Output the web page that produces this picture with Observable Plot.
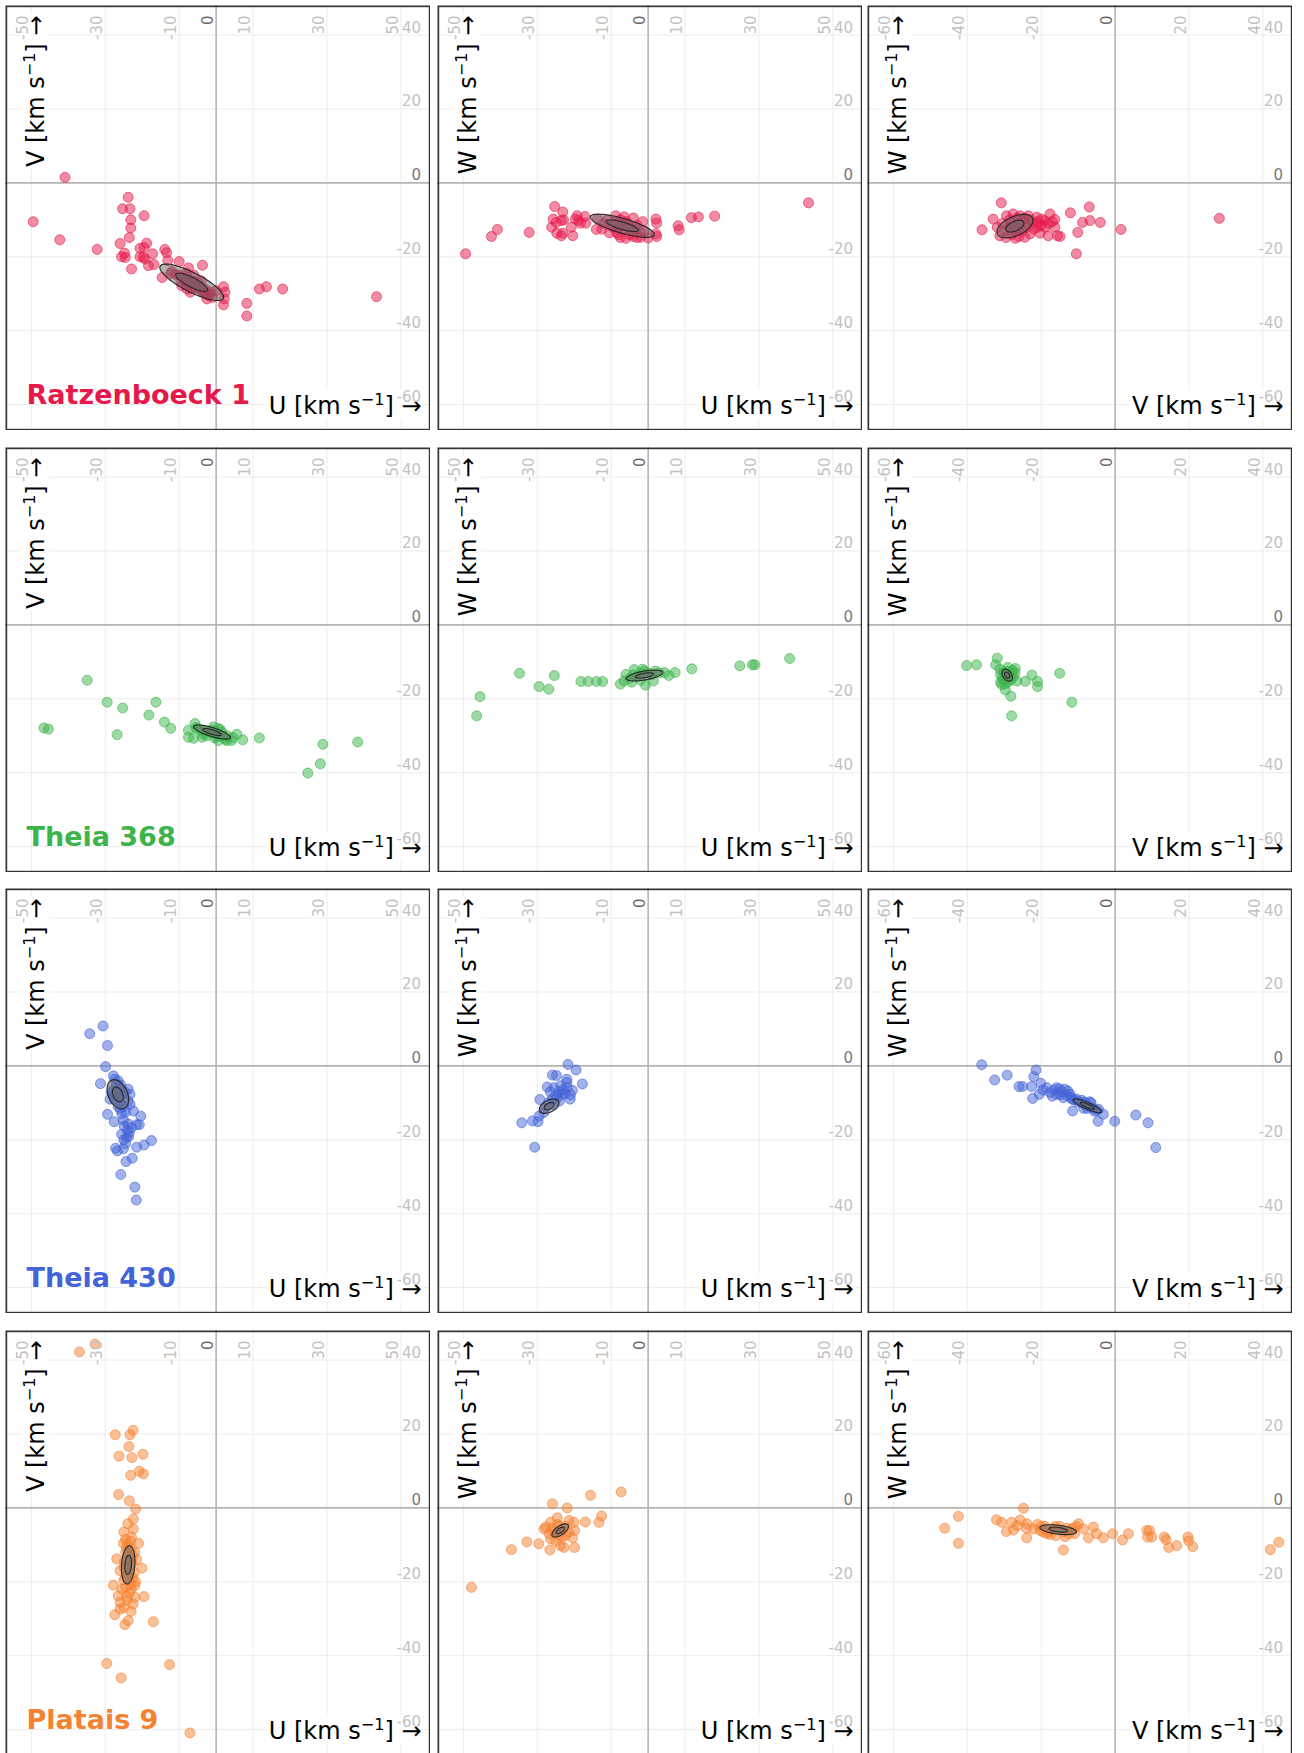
<!DOCTYPE html>
<html><head><meta charset="utf-8">
<script src="https://cdn.jsdelivr.net/npm/d3@7"></script>
<script src="https://cdn.jsdelivr.net/npm/@observablehq/plot@0.6"></script>
<style>
body{margin:0;background:#fff;}
#root{position:relative;width:1304px;height:1753px;overflow:hidden;background:#fff;font-family:"DejaVu Sans";}
.panel{position:absolute;width:425px;height:425px;}
.panel svg{display:block;}
</style></head><body><div id="root"></div>
<script>
// ---------- categories / ticks ----------
const clusterNames = ["Ratzenboeck 1", "Theia 368", "Theia 430", "Platais 9"];
const clusterColors = ["#e6194B", "#3cb44b", "#4363d8", "#f58231"];
const uTicks = [-50, -30, -10, 0, 10, 30, 50];
const vTicks = [-60, -40, -20, 0, 20, 40];
const wTicks = [-60, -40, -20, 0, 20, 40];
const uDomain = [-57, 58];
const vDomain = [-67, 48];
const wDomain = [-67, 48];

// ---------- Ratzenboeck 1 ----------
const r1_UV = [[-40.9,1.5],[-49.5,-10.5],[-42.3,-15.4],[-32.2,-18],[-23.8,-3.9],[-25.3,-7],[-23.3,-7],[-23.1,-10],[-23.1,-12.2],[-19.5,-8.9],[-23.5,-14.8],[-26,-16.4],[-18.8,-16.3],[-20.6,-17.7],[-19.5,-17.5],[-24.8,-19],[-25.6,-20],[-24.6,-20.2],[-20.6,-20],[-19.7,-20.1],[-19.2,-20.6],[-17.2,-19.2],[-22.9,-23.3],[-18.3,-22.4],[-16.8,-22.1],[-13.9,-18],[-13.4,-18.9],[-13.1,-21],[-10,-21.3],[-14.6,-25.6],[-12.3,-24.5],[-7.5,-23],[-3.7,-22.3],[2,-28.1],[2.4,-29.6],[2.2,-31.4],[2,-33],[8.3,-32.6],[8.3,-36],[11.7,-28.7],[13.6,-28.1],[18,-28.7],[43.4,-30.8],
  [-12,-24],[-11,-24.8],[-10,-25],[-9,-25.5],[-8.5,-26.5],[-8,-26],[-7.5,-27],[-7,-27.5],[-6.5,-26.5],[-6,-28],[-5.5,-27.5],[-5,-28.5],[-4.5,-28],[-4,-29],[-3.5,-29.5],[-3,-28.8],[-2.5,-30],[-2,-30.5],[-1.5,-29.5],[-1,-31],[-9.3,-27.8],[-7.9,-28.7],[-7,-29.6],[-5.2,-28.3],[-2.5,-31.4],[-1.6,-30.1],[0,-29.2],[-8,-24.5],[-6,-25],[-4,-26.5],
  [-9.5,-26.5],[-8,-27.5],[-6,-26.8],[-5,-27],[-3,-30],[-4.2,-28.3],[-6.8,-28.5]];
const r1_UW = [[-49.4,-19.2],[-42.4,-14.5],[-40.8,-12.6],[-32.2,-13.4],[-25.3,-6.4],[-23.1,-7.9],[-25.7,-9.8],[-24.9,-10.7],[-23.5,-10.2],[-22.9,-10],[-26.1,-12],[-24.7,-13.6],[-23.5,-14.3],[-23.1,-13.6],[-20.4,-14.3],[-20.8,-12],[-19.7,-9.8],[-19.2,-8.9],[-18.8,-10.2],[-18.3,-10.9],[-17.1,-9.1],[-16.9,-10.9],[-14,-12.6],[-13.7,-9.8],[2.1,-9.8],[2.3,-10.9],[2.1,-13.8],[2.3,-14.5],[8.1,-11.6],[8.4,-12.7],[11.7,-9.4],[13.6,-9.2],[18,-9],[43.4,-5.4],
  [-12,-11],[-11,-10],[-10,-11.5],[-9,-10.5],[-8.8,-8.9],[-8,-12],[-7,-11],[-6.5,-12.5],[-6,-10.5],[-5,-12],[-4,-13],[-3,-11.5],[-2,-13.5],[-1,-13],[-7.5,-14.8],[-6,-15],[-4,-14.5],[-2,-14.7],[0,-14.9],[-10.5,-13.5],[-12.5,-12.5],[-4,-9.5],[-6.5,-9.2],[-1.5,-10.5],[-8.5,-13.5],[-5,-14],
  [-9.5,-12],[-7.5,-10],[-5.5,-11],[-3.5,-12.5],[-8,-14],[-3,-14.8]];
const r1_VW = [[-30.8,-5.4],[-36,-12.7],[-33,-9.8],[-31.9,-12],[-31.2,-14.3],[-12.1,-8.1],[-7,-6.5],[-8.8,-10.7],[-6.8,-10.2],[-4,-10.7],[-10.1,-13.4],[-10.5,-19.2],[1.6,-12.6],[28.2,-9.6],
  [-29.4,-8.9],[-27.6,-8.4],[-25.7,-8.9],[-23.5,-8.9],[-21.2,-9.3],[-19.9,-9.8],[-19,-10.2],[-17.6,-8.4],[-16.3,-9.9],[-20.3,-13.6],[-23,-13.8],[-24.4,-14.7],[-18.1,-14.3],[-16.3,-12],[-14.9,-14.5],[-15.6,-14.3],[-30,-13],[-29,-12],[-28,-14],[-27,-13],[-26,-11],[-25,-10],[-24,-12],[-28.5,-10],[-26,-14.5],[-30.5,-11],[-22,-11],[-21,-10.5],[-20,-11.5],[-23,-10],[-29.5,-14.8],[-27,-15],
  [-28,-11],[-27,-12],[-26,-12.5],[-25,-13],[-24,-11],[-22,-12.5],[-21,-12],[-19,-12],[-18,-11],[-17,-10.5],[-28.5,-12.5],[-26.5,-9.5],[-24.5,-9.5]];
// ellipse: [centre x, centre y, semi-major, semi-minor, angle deg]
const r1_ell = [[-6.6,-26.9,4.8,1.3,-27],[-7,-11.6,4.5,1.0,-16],[-27.1,-11.7,2.6,1.3,24]];

// ---------- Theia 368 ----------
const t368_UV = [[-34.9,-15],[-46.6,-27.9],[-45.4,-28.2],[-29.5,-20.9],[-25.3,-22.5],[-26.8,-29.7],[-16.3,-20.9],[-18.2,-24.4],[-14,-26.3],[-12.3,-28],[-7.5,-28.5],[-7.5,-30.4],[-6.1,-30.7],[-5.7,-26.7],[-3.8,-30.4],[-0.7,-27.6],[1.1,-28.3],[0.6,-31.3],[2.9,-31.3],[4.2,-31.3],[5.6,-29.6],[7.2,-31.1],[11.7,-30.6],[28.9,-32.3],[38.3,-31.7],[28.2,-37.6],[24.8,-40.1],
  [-5,-28],[-4,-28.5],[-3,-28.5],[-2,-29],[-1,-28.5],[0,-29.5],[1,-30],[2,-30.5],[3,-30],[0.5,-28],[1.5,-29],[-2.5,-30],[-5.5,-27.8],[4.5,-30.5],
  [-1.5,-29],[0.2,-30.2],[-3.5,-29.5],[2.5,-31],[-0.5,-30.5]];
const t368_UW = [[-46.4,-24.6],[-45.5,-19.4],[-34.8,-13.1],[-29.5,-16.7],[-26.9,-17.4],[-25.4,-13.7],[-18.2,-15.3],[-16.2,-15.3],[-14,-15.3],[-12.3,-15.3],[-7.5,-16],[-6,-13.4],[-3.8,-12.1],[-0.7,-16.3],[1.4,-15.2],[4.4,-12.9],[5.6,-13.7],[7.3,-12.9],[11.8,-11.9],[24.8,-11.1],[28.2,-10.8],[28.9,-10.8],[38.3,-9.1],
  [-5,-14.5],[-4,-13.5],[-3,-14],[-2,-13],[-1,-12.5],[0,-13],[1,-13.5],[2,-12.5],[3,-13],[-1.5,-12],[-4.5,-15.5],[-6.5,-15.2],[-2,-15]];
const t368_VW = [[-40.2,-11],[-37.5,-10.8],[-31.9,-9],[-32.3,-10.8],[-31.2,-12],[-27.1,-12.9],[-26.6,-15.2],[-30.7,-16.1],[-29.7,-17.6],[-28.2,-19.3],[-28,-24.6],[-24.3,-15.3],[-22.5,-13.6],[-21,-15.3],[-21,-16.7],[-15,-13.1],[-11.7,-20.9],
  [-30,-13],[-28.5,-14.5],[-29.5,-12.5],[-28,-13],[-30.5,-14.5],[-29,-15.5],[-27.5,-14],[-31,-13.5],[-29,-11.5],[-27,-11.8],[-30,-15],
  [-29.5,-14],[-28.8,-13.2],[-30.2,-12.8],[-28.2,-15],[-29.8,-16],[-27.8,-12.3],[-31,-15.5]];
const t368_ell = [[-1.1,-29,2.6,0.6,-17],[-1,-13.7,2.5,0.6,10],[-29.2,-13.6,0.9,0.6,-55]];

// ---------- Theia 430 ----------
const t430_UV = [[-34.2,8.7],[-30.6,10.8],[-29.4,5.5],[-29.9,-0.2],[-31.3,-4.8],[-27.8,-2.7],[-26,-11.7],[-23.3,-10.4],[-22.4,-12.2],[-20.4,-13.6],[-29.4,-13.1],[-27.6,-15.1],[-23.7,-19.1],[-20.8,-15.9],[-17.5,-20.2],[-19.5,-21.4],[-21.5,-22],[-27.2,-22.3],[-22.7,-25],[-24.4,-25.9],[-25.8,-29.4],[-22,-32.8],[-21.6,-36.3],
  [-27.4,-3.6],[-28.3,-7.2],[-28.7,-9],[-23.8,-6.3],[-23.3,-7.7],[-23.8,-9.5],[-25.1,-14.7],[-24.9,-16.3],[-23.8,-15.7],[-22.9,-16.7],[-21.5,-15.9],[-25.6,-18.5],[-24.2,-19.4],[-26.7,-23],[-25.1,-22.4],[-27,-5],[-26,-6],[-25.5,-8],[-27.5,-9],[-26,-10],[-25,-11],[-28,-6.5],[-26.5,-4],[-24.5,-12.5],[-25.5,-13],[-24,-17.5],[-23.5,-18],[-25,-20],[-24.5,-21],
  [-27,-7.5],[-26,-8.5],[-25.8,-5.2],[-27.8,-8],[-24.8,-7],[-26.5,-11]];
const t430_UW = [[-21.7,0.4],[-19.5,-1.1],[-25.9,-2.5],[-24.8,-2.6],[-22,-3.6],[-17.8,-4.9],[-29.3,-9.1],[-34.2,-15.4],[-31.3,-14.9],[-29.8,-15.1],[-30.7,-22],
  [-27.3,-5.7],[-25.5,-5.9],[-23.7,-5.4],[-21.9,-5.9],[-20.5,-6.6],[-23.2,-7.7],[-24.6,-8.6],[-21.1,-9],[-28.2,-12.6],[-29.5,-13.6],[-26,-9],[-25,-8],[-24,-7],[-27,-10],[-28,-11.5],[-25.5,-10.5],[-22.5,-7.5],[-23,-6.5],[-26.5,-7],[-24,-9.5],[-22,-4.5],[-21,-7.8]];
const t430_VW = [[-36.1,0.3],[-32.6,-3.8],[-29.2,-2.5],[-21.4,-1.1],[-22,-2.9],[-26,-5.6],[-25,-5.6],[-22.6,-5.6],[-20.1,-4.7],[-22.3,-8.8],[-20.5,-7.7],[-18.5,-5.9],[-11.5,-12.2],[-4.6,-15],[-0.1,-15],[5.6,-13.3],[8.9,-15.4],[11,-22.1],
  [-17.6,-7.2],[-15.8,-5.9],[-15.8,-7.7],[-13.6,-6.3],[-14,-8.6],[-12.2,-7.7],[-11.7,-9],[-9,-9.3],[-6.8,-9.7],[-4.5,-11.7],[-3.2,-13.1],[-9,-10],[-8,-10.5],[-7,-11],[-6,-11.5],[-5,-12],[-10,-9.8],[-11,-9.2],[-8.5,-11.5],[-6.5,-10],[-16.5,-6.5],[-14.5,-7],[-13,-8],[-17,-8.2],[-15,-6.2],[-12.8,-6.8],[-19.5,-6.5],
  [-10.5,-9],[-8.2,-9.8],[-7.5,-11.5],[-5.5,-12.3],[-12,-8.5],[-14.8,-7.8]];
const t430_ell = [[-26.6,-7.7,2.1,1.3,-66],[-26.8,-10.9,1.45,0.8,28],[-7.5,-10.8,2.1,0.45,-23.5]];

// ---------- Platais 9 ----------
const p9_UV = [[-37,42.2],[-32.8,44.3],[-27.3,19.8],[-22.5,21],[-23.3,19.8],[-23.6,16.6],[-26.3,14],[-22.8,13.6],[-19.8,14.5],[-20.8,9.9],[-19.7,9.2],[-23.1,8.8],[-26.4,3.6],[-23.5,1.9],[-21.8,-0.3],[-22.4,-3],[-23.9,-4.3],[-17,-30.8],[-29.6,-42.1],[-12.6,-42.4],[-25.7,-46],[-7.1,-60.9],
  [-22.4,-5.7],[-22.9,-7.9],[-21,-9.6],[-25.1,-9.6],[-26.9,-13.8],[-20.1,-16.3],[-27.8,-20.9],[-26.5,-23.8],[-26,-25.6],[-27.4,-28.9],[-24.7,-31.6],[-23.8,-30.5],[-22,-24.2],[-19.5,-24],[-26,-27.4],
  [-24,-10],[-23,-11],[-24.5,-12],[-23.5,-13],[-24,-14],[-22.8,-15],[-25,-16],[-23.5,-17],[-24,-18],[-22.5,-19],[-25,-19.5],[-23,-20.5],[-24.5,-21.5],[-22,-21],[-25.5,-22],[-23.5,-23],[-24,-25],[-22.5,-26],[-25,-27],[-23,-28],[-24.5,-8.5],[-22,-12],[-21.5,-14],[-26,-17],[-21.8,-20],
  [-23.2,-9],[-24.2,-11],[-22.5,-13],[-24.8,-14.5],[-23.8,-16],[-22.2,-17.5],[-24.5,-18.8],[-23,-22],[-24.2,-24],[-25,-6.5]];
const p9_UW = [[-7.3,4.3],[-15.6,3.4],[-25.9,1.1],[-21.9,0],[-12.6,-2.2],[-13.3,-3.9],[-17,-3.8],[-19.9,-10.7],[-26.6,-11.4],[-29.6,-9.7],[-32.8,-9.2],[-37,-11.3],[-47.8,-21.5],
  [-27.7,-5.2],[-26.4,-3.9],[-24.6,-2.7],[-21.4,-3.4],[-20.1,-3.9],[-19.9,-6.1],[-20.5,-8.1],[-22.8,-10.7],[-23.7,-10.2],[-26.4,-8.4],[-26.8,-7],[-28.2,-5.7],[-25.5,-6.6],[-22.3,-7.5],
  [-24,-5],[-23,-6],[-25,-7],[-24.5,-4.5],[-22.5,-5],[-26,-5.5],[-23.5,-8],[-25,-9],[-21.5,-6.5],[-24,-7.2]];
const p9_VW = [[-60.7,4.5],[-46.1,-5.5],[-42.4,-2.3],[-42.4,-9.6],[-24.8,-0.1],[-32.1,-3.2],[-23.9,-8.1],[-14,-11.4],[-3.2,-8.1],[-0.7,-7],[2,-8.7],[3.6,-7],[8.6,-6.1],[9.3,-6.1],[8.8,-7.9],[9.9,-7.9],[13.3,-7.9],[13.8,-8.6],[14.5,-10.7],[16.7,-10.2],[19.7,-7.9],[19.9,-8.9],[21,-10.5],[42,-11.3],[44.3,-9.3],
  [-30.7,-3.9],[-29.4,-6.4],[-28,-3.9],[-25.7,-3.3],[-23.9,-4.3],[-22.1,-5.7],[-20.3,-6.1],[-18.5,-7],[-16.7,-5.7],[-9.9,-4.3],[-8.6,-5.7],[-7.2,-8.1],[-5.9,-5.2],[-5,-7],
  [-19,-5],[-17,-6],[-15,-5],[-14,-6.5],[-13,-5.5],[-12,-6],[-11,-7],[-16,-7.5],[-18,-6.5],[-20,-5],[-13.5,-7.8],[-10.5,-5],[-21,-4.5],[-24,-5.5],[-26.5,-4.8],[-27.5,-6],
  [-17.5,-7.2],[-14.8,-6],[-12.5,-7],[-16.2,-5],[-19.5,-6.5],[-11.5,-5.5]];
const p9_ell = [[-23.8,-15.4,2.6,0.9,86],[-23.8,-6.1,1.3,0.6,35],[-15.4,-5.9,2.5,0.6,-7]];

// ---------- assembly ----------
const panelPoints = [[r1_UV, r1_UW, r1_VW], [t368_UV, t368_UW, t368_VW], [t430_UV, t430_UW, t430_VW], [p9_UV, p9_UW, p9_VW]];
const panelEllipses = [r1_ell, t368_ell, t430_ell, p9_ell];
const lefts = [5, 437, 867];
const tops = [5, 447, 888, 1330];
const SIZE = 425;

function ellipseRing(e, k) {
  const [cx, cy, a, b, ang] = e;
  const th = ang * Math.PI / 180, out = [];
  for (let i = 0; i < 96; i++) {
    const t = 2 * Math.PI * i / 96;
    const px = k * a * Math.cos(t), py = k * b * Math.sin(t);
    out.push([cx + px * Math.cos(th) - py * Math.sin(th), cy + px * Math.sin(th) + py * Math.cos(th)]);
  }
  return out;
}

function makePanel(row, col) {
  const pts = panelPoints[row][col];
  const e = panelEllipses[row][col];
  const color = clusterColors[row];
  const xd = col === 2 ? vDomain : uDomain;
  const yd = col === 0 ? vDomain : wDomain;
  const xt = col === 2 ? vTicks : uTicks;
  const yt = col === 0 ? vTicks : wTicks;
  const xName = col === 2 ? "V" : "U";
  const yName = col === 0 ? "V" : "W";
  const tickStyle = {fontSize: 15, fill: "#c2c2c2"};
  const marks = [
    Plot.ruleX(xt.filter(d => d !== 0), {x: d => d, stroke: "#ececec", strokeWidth: 1}),
    Plot.ruleY(yt.filter(d => d !== 0), {y: d => d, stroke: "#ececec", strokeWidth: 1}),
    Plot.ruleX([0], {x: d => d, stroke: "#b4b4b4", strokeWidth: 1.6}),
    Plot.ruleY([0], {y: d => d, stroke: "#b4b4b4", strokeWidth: 1.6}),
    Plot.dot(pts, {x: d => d[0], y: d => d[1], r: 5, fill: color, fillOpacity: 0.5, stroke: color, strokeOpacity: 0.6, strokeWidth: 1, clip: true}),
    Plot.line(ellipseRing(e, 2), {x: d => d[0], y: d => d[1], curve: "linear-closed", fill: "#6a6a6a", fillOpacity: 0.5, stroke: "#262626", strokeWidth: 1.1}),
    Plot.line(ellipseRing(e, 1), {x: d => d[0], y: d => d[1], curve: "linear-closed", fill: "#6a6a6a", fillOpacity: 0.5, stroke: "#262626", strokeWidth: 1.1}),
    Plot.text([`${xName} [km s−1] →`], {text: d => d, frameAnchor: "bottom-right", textAnchor: "end", lineAnchor: "bottom", dx: -9, dy: -17, fontSize: 24, fill: "black"}),
    Plot.text([`${yName} [km s−1] →`], {text: d => d, frameAnchor: "top-left", rotate: -90, textAnchor: "end", lineAnchor: "bottom", dx: 38, dy: 10, fontSize: 24, fill: "black"}),
    Plot.text(xt.filter(d => d !== 0), {x: d => d, text: d => String(d), frameAnchor: "top", rotate: -90, textAnchor: "end", lineAnchor: "bottom", dx: -3, dy: 10, ...tickStyle}),
    Plot.text([0], {x: d => d, text: d => String(d), frameAnchor: "top", rotate: -90, textAnchor: "end", lineAnchor: "bottom", dx: -3, dy: 10, fontSize: 15, fill: "#666"}),
    Plot.text(yt.filter(d => d !== 0), {y: d => d, text: d => String(d), frameAnchor: "right", textAnchor: "end", lineAnchor: "bottom", dx: -9.5, dy: -2.5, ...tickStyle}),
    Plot.text([0], {y: d => d, text: d => String(d), frameAnchor: "right", textAnchor: "end", lineAnchor: "bottom", dx: -9.5, dy: -2.5, fontSize: 15, fill: "#777"}),
    Plot.frame({stroke: "#333", strokeWidth: 1.7, inset: 0.85})
  ];
  if (col === 0) {
    marks.push(Plot.text([clusterNames[row]], {text: d => d, frameAnchor: "bottom-left", textAnchor: "start", lineAnchor: "bottom", dx: 21, dy: -27, fontSize: 27, fontWeight: "bold", fill: color}));
  }
  return Plot.plot({
    width: SIZE, height: SIZE, margin: 0,
    x: {domain: xd, axis: null},
    y: {domain: yd, axis: null},
    style: {background: "transparent", fontFamily: "DejaVu Sans", overflow: "hidden"},
    marks
  });
}

function fixLabels(svg) {
  d3.select(svg).selectAll("text").each(function() {
    const t = this.textContent;
    if (!t.includes("km s")) return;
    const axis = t[0];
    const sel = d3.select(this);
    sel.text(null);
    sel.append("tspan").text(axis + " [km s");
    sel.append("tspan").attr("dy", -9).attr("font-size", 16).text("−1");
    sel.append("tspan").attr("dy", 9).text("]");
    sel.append("tspan").text(" →");
    const bb = this.getBBox();
    const rect = document.createElementNS("http://www.w3.org/2000/svg", "rect");
    rect.setAttribute("x", bb.x - 2);
    rect.setAttribute("y", bb.y);
    rect.setAttribute("width", bb.width + 4);
    rect.setAttribute("height", bb.height);
    rect.setAttribute("fill", "white");
    rect.setAttribute("fill-opacity", "0.8");
    rect.setAttribute("stroke", "none");
    const tr = this.getAttribute("transform");
    if (tr) rect.setAttribute("transform", tr);
    this.parentNode.insertBefore(rect, this);
  });
}

const root = document.getElementById("root");
for (let row = 0; row < 4; row++) {
  for (let col = 0; col < 3; col++) {
    const div = document.createElement("div");
    div.className = "panel";
    div.style.left = lefts[col] + "px";
    div.style.top = tops[row] + "px";
    const svg = makePanel(row, col);
    div.appendChild(svg);
    root.appendChild(div);
    fixLabels(svg);
  }
}
</script></body></html>
